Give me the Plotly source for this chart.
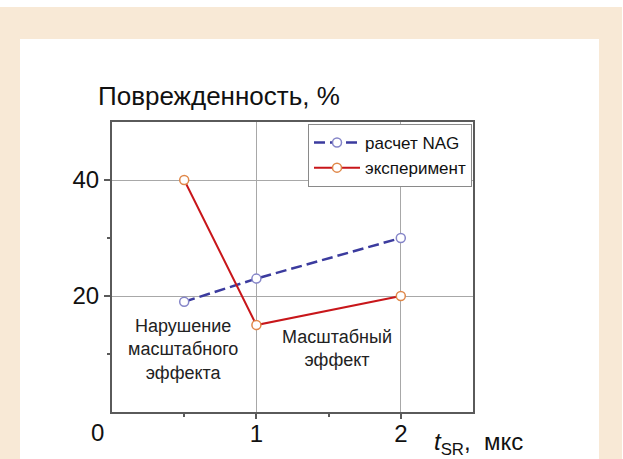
import plotly.graph_objects as go

# Data
t_values = [0.5, 1, 2]
nag_values = [19, 23, 30]
exp_values = [40, 15, 20]
series_names = ["расчет NAG", "эксперимент"]
x_ticks = [1, 2]
y_ticks = [20, 40]

FONT = "Arial, Liberation Sans, sans-serif"

W, H = 623, 459
L, R, T, B = 112, 150, 122, 47
PW, PH = W - L - R, H - T - B


def px(x):
    return (x - L) / PW


def py(y):
    return (H - B - y) / PH


fig = go.Figure()

fig.add_trace(go.Scatter(
    x=t_values, y=nag_values, name=series_names[0], mode="lines+markers",
    line=dict(color="#3b3b9e", width=2.5, dash="11px,5px"),
    marker=dict(symbol="circle", size=9, color="white",
                line=dict(color="#8585c8", width=1.5)),
))
fig.add_trace(go.Scatter(
    x=t_values, y=exp_values, name=series_names[1], mode="lines+markers",
    line=dict(color="#c8161a", width=2),
    marker=dict(symbol="circle", size=9, color="white",
                line=dict(color="#e0884a", width=1.5)),
))

shapes = [
    dict(type="rect", xref="paper", yref="paper", layer="below",
         x0=px(0), x1=px(622), y0=py(470), y1=py(7),
         fillcolor="#f8e9d6", line=dict(width=0)),
    dict(type="rect", xref="paper", yref="paper", layer="below",
         x0=px(20), x1=px(599), y0=py(470), y1=py(39),
         fillcolor="white", line=dict(width=0)),
]

annotations = [
    dict(text="Повреждённость, %".replace("ё", "е"), xref="paper", yref="paper",
         x=px(96), y=py(96), xanchor="left", yanchor="middle", showarrow=False,
         font=dict(size=26, color="#111", family=FONT)),
    dict(text="0", xref="paper", yref="paper", x=px(97), y=py(432),
         xanchor="center", yanchor="middle", showarrow=False,
         font=dict(size=24, color="#111", family=FONT)),
    dict(text="<i>t</i><sub>SR</sub>,&nbsp; мкс", xref="paper", yref="paper",
         x=px(432), y=py(443), xanchor="left", yanchor="middle", showarrow=False,
         font=dict(size=24, color="#111", family=FONT)),
    dict(text="Нарушение<br>масштабного<br>эффекта", x=0.49, y=10.8,
         xanchor="center", yanchor="middle", showarrow=False,
         font=dict(size=18, color="#222", family=FONT)),
    dict(text="Масштабный<br>эффект", x=1.56, y=10.9,
         xanchor="center", yanchor="middle", showarrow=False,
         font=dict(size=18, color="#222", family=FONT)),
]

fig.update_layout(
    width=W, height=H,
    margin=dict(l=L, r=R, t=T, b=B, pad=0, autoexpand=False),
    paper_bgcolor="white", plot_bgcolor="white",
    font=dict(family=FONT, color="#111"),
    shapes=shapes, annotations=annotations,
    legend=dict(x=px(472), y=py(124), xanchor="right", yanchor="top",
                bgcolor="white", bordercolor="#8a8a8a", borderwidth=1,
                font=dict(size=17, color="#111", family=FONT),
                itemwidth=46, tracegroupgap=0),
    showlegend=True,
)

fig.update_xaxes(
    range=[0, 2.5], tickvals=x_ticks, ticktext=[str(v) for v in x_ticks],
    automargin=False, ticklabelstandoff=-6,
    showgrid=True, gridcolor="#a8a8a8", gridwidth=1, zeroline=False,
    showline=True, linecolor="#5a5a5a", linewidth=2, mirror=True,
    ticks="outside", ticklen=5, tickwidth=1.5, tickcolor="#5a5a5a",
    tickfont=dict(size=24, color="#111", family=FONT),
    minor=dict(tickvals=[0.5, 1.5], ticks="outside", ticklen=3,
               tickcolor="#5a5a5a", showgrid=False),
)
fig.update_yaxes(
    range=[0, 50], tickvals=y_ticks, ticktext=[str(v) for v in y_ticks],
    automargin=False,
    showgrid=True, gridcolor="#a8a8a8", gridwidth=1, zeroline=False,
    showline=True, linecolor="#5a5a5a", linewidth=2, mirror=True,
    ticks="outside", ticklen=6, tickwidth=1.5, tickcolor="#5a5a5a",
    tickfont=dict(size=24, color="#111", family=FONT),
    minor=dict(tickvals=[10, 30], ticks="outside", ticklen=3,
               tickcolor="#5a5a5a", showgrid=False),
)

fig.write_html("out.html", config={"displayModeBar": False},
               post_script="document.body.style.margin='0';")
